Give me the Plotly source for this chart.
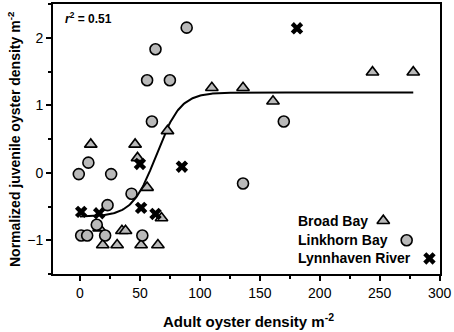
import numpy as np
import plotly.graph_objects as go

# Broad Bay (triangles)
broad_x = [9, 46, 73, 110, 136, 161, 244, 278, 48, 56, 68, 35, 38, 16, 19, 31, 51, 65]
broad_y = [0.42, 0.42, 0.62, 1.26, 1.26, 1.06, 1.49, 1.49, 0.22, -0.22, -0.67,
           -0.86, -0.86, -0.82, -1.07, -1.07, -1.07, -1.07]
# Linkhorn Bay (circles)
link_x = [89, 63, 56, 75, 60, 170, 136, 7, -1, 26, 43, 23, 14, 1, 6, 21, 52]
link_y = [2.15, 1.83, 1.37, 1.37, 0.76, 0.76, -0.16, 0.15, -0.02, -0.02, -0.31,
          -0.48, -0.77, -0.93, -0.93, -0.93, -0.93]
# Lynnhaven River (crosses)
lynn_x = [1, 16, 51, 63, 85, 50, 181]
lynn_y = [-0.58, -0.6, -0.52, -0.61, 0.09, 0.13, 2.14]

# Logistic fit parameters
fit_low, fit_high, fit_x0, fit_scale = -0.65, 1.19, 63.8, 10.0
fit_xmin, fit_xmax = 0, 278

x_ticks = [0, 50, 100, 150, 200, 250, 300]
y_ticks = [-1, 0, 1, 2]

legend_names = ["Broad Bay", "Linkhorn Bay", "Lynnhaven River"]
legend_key_x = [253, 272.5, 291.5]
legend_key_y = [-0.71, -1.0, -1.27]

GRAY = "#b9b9b9"
FONT = "Liberation Sans, Arial, sans-serif"

# plot-area geometry in pixels
W, H = 454, 332
ML, MR, MT, MB = 53, 14, 4, 58
PW, PH = W - ML - MR, H - MT - MB


def px_x(p):
    return (p - ML) / PW


def px_y(p):
    return (H - MB - p) / PH


fx = np.linspace(fit_xmin, fit_xmax, 300)
fy = fit_low + (fit_high - fit_low) / (1 + np.exp(-(fx - fit_x0) / fit_scale))

fig = go.Figure()
fig.add_trace(go.Scatter(x=fx, y=fy, mode="lines", line=dict(color="black", width=2),
                         showlegend=False, hoverinfo="skip"))
tri = dict(symbol="triangle-up", size=11, color=GRAY, line=dict(color="black", width=1.6))
cir = dict(symbol="circle", size=11, color=GRAY, line=dict(color="black", width=1.6))
xs = dict(symbol="x", size=11, color="black", line=dict(width=0))
fig.add_trace(go.Scatter(x=broad_x, y=broad_y, mode="markers", marker=tri, name=legend_names[0], showlegend=False))
fig.add_trace(go.Scatter(x=link_x, y=link_y, mode="markers", marker=cir, name=legend_names[1], showlegend=False))
fig.add_trace(go.Scatter(x=lynn_x, y=lynn_y, mode="markers", marker=xs, name=legend_names[2], showlegend=False))

# custom legend: text then symbol
for mk, kx, ky, name in zip([tri, cir, xs], legend_key_x, legend_key_y, legend_names):
    fig.add_trace(go.Scatter(x=[kx], y=[ky], mode="markers", marker=mk, showlegend=False, hoverinfo="skip"))
    fig.add_annotation(x=px_x(296), y=ky, xref="paper", yref="y", text="<b>%s</b>" % name,
                       showarrow=False, xanchor="left", yanchor="middle",
                       font=dict(family=FONT, size=14, color="black"))

fig.add_annotation(x=px_x(63), y=px_y(8), xref="paper", yref="paper",
                   text="<b><i>r</i><sup>2</sup> = 0.51</b>", showarrow=False,
                   xanchor="left", yanchor="top", font=dict(family=FONT, size=12, color="black"))

# axis titles
fig.add_annotation(x=px_x(248), y=px_y(320), xref="paper", yref="paper",
                   text="<b>Adult oyster density m<sup>-2</sup></b>", showarrow=False,
                   xanchor="center", yanchor="middle", font=dict(family=FONT, size=15, color="black"))
fig.add_annotation(x=px_x(14), y=px_y(139), xref="paper", yref="paper", textangle=-90,
                   text="<b>Normalized juvenile oyster density m<sup>-2</sup></b>", showarrow=False,
                   xanchor="center", yanchor="middle", font=dict(family=FONT, size=14, color="black"))

axis_common = dict(showgrid=False, zeroline=False, showline=True, linecolor="black", linewidth=1.8,
                   mirror=True, ticks="outside", ticklen=5, tickwidth=1.5, tickcolor="black",
                   automargin=False, ticklabeloverflow="allow",
                   tickfont=dict(family=FONT, size=14, color="black"))
fig.update_xaxes(range=[-22.5, 300.3], tickvals=x_ticks,
                 minor=dict(dtick=25, tick0=0, ticks="outside", ticklen=3, tickcolor="black"),
                 **axis_common)
fig.update_yaxes(range=[-1.5, 2.5], tickvals=y_ticks,
                 minor=dict(dtick=0.5, tick0=0, ticks="outside", ticklen=3, tickcolor="black"),
                 **axis_common)

fig.update_layout(width=W, height=H, margin=dict(l=ML, r=MR, t=MT, b=MB),
                  paper_bgcolor="white", plot_bgcolor="white", showlegend=False)
fig.write_html("out.html", config={"displayModeBar": False},
               post_script="document.body.style.margin='0';document.body.style.overflow='hidden';")
